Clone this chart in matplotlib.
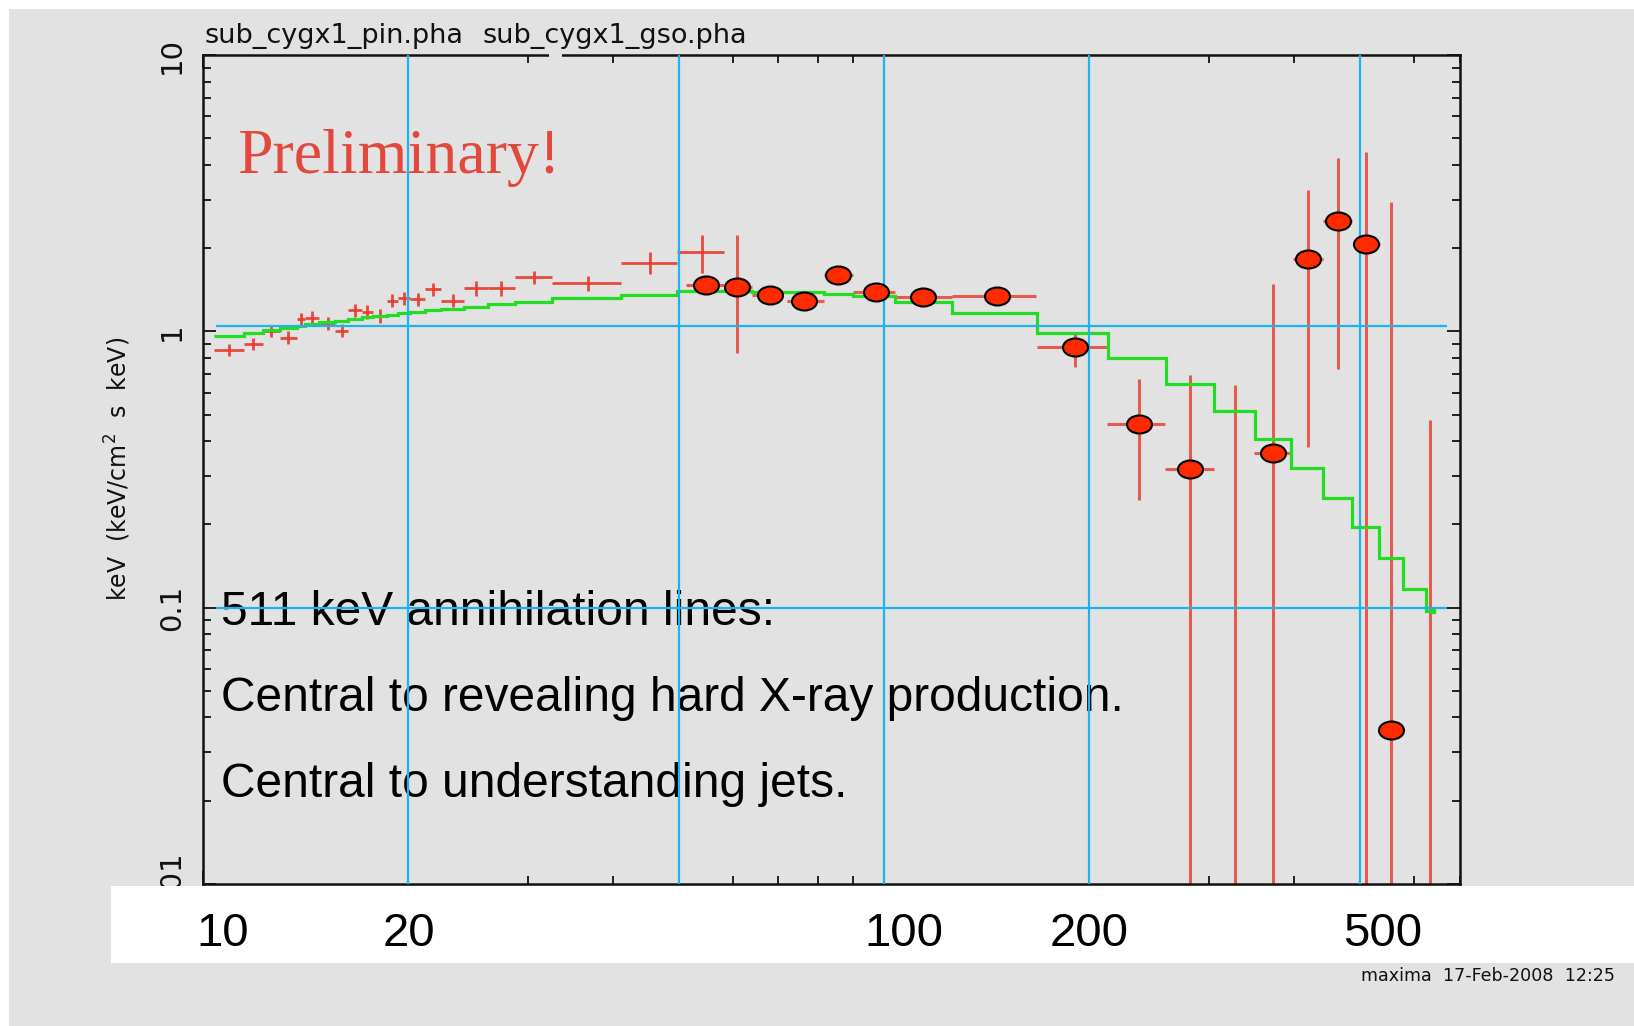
import numpy as np
import matplotlib
matplotlib.use("Agg")
import matplotlib.pyplot as plt
from matplotlib.path import Path
from matplotlib.transforms import Affine2D
from matplotlib.patches import Rectangle

# HXD-PIN spectrum: bin centre, bin edges (keV), E*F(E) and 1-sigma error
pin_e = [10.92, 11.86, 12.61, 13.37, 13.93, 14.47, 15.26, 16.01, 16.74, 17.45, 18.21,
         18.99, 19.74, 20.73, 21.80, 23.32, 25.18, 27.45, 30.65, 36.77, 45.35, 54.03]
pin_lo = [10.38, 11.51, 12.25, 13.00, 13.75, 14.14, 14.83, 15.65, 16.33, 17.12, 17.81,
          18.63, 19.38, 20.15, 21.19, 22.42, 24.21, 26.25, 28.72, 32.53, 41.13, 49.68]
pin_hi = [11.51, 12.25, 13.00, 13.75, 14.14, 14.83, 15.65, 16.33, 17.12, 17.81, 18.63,
          19.38, 20.15, 21.19, 22.42, 24.21, 26.25, 28.72, 32.53, 41.13, 49.68, 58.27]
pin_f = [0.856, 0.898, 1.006, 0.949, 1.106, 1.121, 1.070, 1.006, 1.195, 1.178, 1.137,
         1.292, 1.318, 1.307, 1.421, 1.291, 1.433, 1.433, 1.570, 1.495, 1.773, 1.931]
pin_err = [0.045, 0.045, 0.05, 0.05, 0.06, 0.06, 0.055, 0.055, 0.065, 0.065, 0.065,
           0.07, 0.07, 0.07, 0.075, 0.07, 0.09, 0.09, 0.09, 0.09, 0.16, 0.30]

# HXD-GSO spectrum (nan = below the plotted range, only the error bar shows)
gso_e = [54.86, 60.96, 68.06, 76.42, 85.68, 97.50, 114.1, 146.5, 190.7, 236.9, 281.7,
         327.3, 372.4, 418.8, 464.4, 510.9, 555.3, 633.9]
gso_lo = [51.2, 58.27, 64.12, 71.99, 81.82, 90.14, 103.95, 125.85, 167.6, 212.7, 258.9,
          304.8, 349.9, 398.1, 441.6, 488.5, 534.5, 580.2]
gso_hi = [58.27, 64.12, 70.96, 81.82, 90.14, 103.95, 125.85, 167.2, 213.4, 258.9, 304.8,
          349.9, 396.0, 441.6, 487.3, 534.5, 580.2, 693.7]
gso_f = [1.466, 1.444, 1.358, 1.289, 1.600, 1.389, 1.335, 1.347, 0.876, 0.462, 0.318,
         np.nan, 0.363, 1.829, 2.510, 2.067, 0.0360, np.nan]
gso_fhi = [1.52, 2.234, 1.40, 1.33, 1.65, 1.43, 1.38, 1.39, 0.998, 0.672, 0.696,
           0.640, 1.481, 3.251, 4.234, 4.474, 2.949, 0.478]
gso_flo = [1.41, 0.837, 1.32, 1.25, 1.55, 1.35, 1.29, 1.30, 0.742, 0.245, 0.001,
           0.001, 0.001, 0.382, 0.729, 0.001, 0.001, 0.001]

# folded model, one value per channel bin
model_edges = [10.38, 11.51, 12.25, 13.00, 13.75, 14.14, 14.83, 15.65, 16.33, 17.12, 17.81,
               18.63, 19.38, 20.15, 21.19, 22.42, 24.21, 26.25, 28.72, 32.53, 41.13, 49.68,
               58.27, 64.12, 71.76, 81.82, 90.14, 103.95, 125.85, 167.6, 213.4, 259.2,
               305.0, 351.2, 396.0, 441.6, 487.4, 533.4, 578.7, 626.1, 639.2]
model_f = [0.965, 0.989, 1.012, 1.031, 1.046, 1.064, 1.079, 1.093, 1.109, 1.125, 1.137,
           1.149, 1.163, 1.176, 1.192, 1.208, 1.223, 1.254, 1.281, 1.321, 1.358, 1.397,
           1.401, 1.389, 1.385, 1.362, 1.340, 1.281, 1.166, 0.984, 0.801, 0.645, 0.514,
           0.407, 0.319, 0.249, 0.195, 0.151, 0.117, 0.097]

# reference guide lines
guide_e = [20, 50, 100, 200, 500]
guide_f = [1.05, 0.1]
guide_span = [10.45, 671]

energy_labels = ["10", "20", "100", "200", "500"]
energy_label_px = [223, 409, 903.5, 1089, 1383]

notes = ["511 keV annihilation lines:",
         "Central to revealing hard X-ray production.",
         "Central to understanding jets."]
note_baseline_px = [625, 711, 797]

W, H = 1634, 1026
GREY = "#e2e2e2"
RED = "#e8392b"
BLUE = "#1cb4ef"
sans = ["Liberation Sans", "DejaVu Sans"]
narrow = ["Liberation Sans Narrow", "DejaVu Sans"]


def fx(px):
    return px / W


def fy(py):
    return 1 - py / H


fig = plt.figure(figsize=(W / 100, H / 100), dpi=100, facecolor=GREY)
ax = fig.add_axes([fx(202.5), fy(883.7), 1257 / W, 828.5 / H])
ax.set_facecolor(GREY)
ax.set_xscale("log")
ax.set_yscale("log")
ax.set_xlim(10, 700)
ax.set_ylim(0.01, 10)

for s in ax.spines.values():
    s.set_linewidth(1.8)
    s.set_color("#111111")
ax.tick_params(which="both", direction="in", top=True, right=True,
               labelbottom=False, width=1.3, colors="#111111")
ax.tick_params(which="major", length=9.5)
ax.tick_params(which="minor", length=5.8)
ax.set_yticks([0.01, 0.1, 1, 10], ["0.01", "0.1", "1", "10"])
ax.tick_params(axis="y", which="major", labelrotation=90, pad=12, labelsize=21)
for lab in ax.get_yticklabels():
    lab.set_fontfamily(narrow)
    lab.set_verticalalignment("center")

# model
ax.stairs(model_f, model_edges, baseline=None, color="#22dd22", lw=2.3, zorder=3)
ax.plot(model_edges[-1], model_f[-1], "s", ms=3, color="#22dd22", zorder=3)

# PIN crosses
pe = np.array(pin_e)
ax.errorbar(pe, pin_f, xerr=[pe - np.array(pin_lo), np.array(pin_hi) - pe], yerr=pin_err,
            fmt="none", ecolor=RED, elinewidth=2.0, capsize=0, alpha=0.9, zorder=2)

# GSO error bars
ax.vlines(gso_e, gso_flo, gso_fhi, color=RED, lw=2.2, alpha=0.8, zorder=2)
ax.hlines(gso_f, gso_lo, gso_hi, color=RED, lw=2.2, alpha=0.8, zorder=2)

# guide lines on top of the data and notes
for e in guide_e:
    ax.axvline(e, color=BLUE, lw=1.6, zorder=4)
ax.hlines(guide_f, guide_span[0], guide_span[1], color=BLUE, lw=1.6, zorder=4)

# GSO points as slightly flattened discs
disc = Path.unit_circle().transformed(Affine2D().scale(1.0, 0.72))
ax.plot(gso_e, gso_f, ls="none", marker=disc, ms=18, mfc="#ff2a00", mec="black",
        mew=1.5, zorder=5)

ax.text(fx(237.6), fy(173), "Preliminary!", transform=fig.transFigure, fontsize=46,
        family=["Liberation Serif", "DejaVu Serif"], color="#e2483c", va="baseline", zorder=3)
for txt, py in zip(notes, note_baseline_px):
    ax.text(fx(221), fy(py), txt, transform=fig.transFigure, fontsize=34.5,
            family=sans, color="black", va="baseline", zorder=3)

# plot headers
fig.text(fx(204), fy(43), "sub_cygx1_pin.pha", fontsize=19.5, va="baseline", color="#111111")
fig.text(fx(482.5), fy(43), "sub_cygx1_gso.pha", fontsize=19.5, va="baseline", color="#111111")
fig.text(fx(118), fy(469), "keV  (keV/cm$^2$  s  keV)", rotation=90, ha="center",
         va="center", fontsize=17, color="#111111")
fig.text(fx(1615), fy(976), "maxima  17-Feb-2008  12:25", ha="right", va="center",
         fontsize=12.6, color="#111111")

# small break in the top frame line
fig.add_artist(Rectangle((fx(549), fy(58)), 13 / W, 7 / H, transform=fig.transFigure,
                         facecolor=GREY, edgecolor="none", zorder=5))

# white frame pieces and the energy band
fig.add_artist(Rectangle((0, fy(9)), 1, 9 / H, transform=fig.transFigure,
                         facecolor="white", edgecolor="none", zorder=5))
fig.add_artist(Rectangle((0, 0), 9 / W, 1, transform=fig.transFigure,
                         facecolor="white", edgecolor="none", zorder=5))
fig.add_artist(Rectangle((fx(111), fy(963.3)), 1 - fx(111), (963.3 - 886) / H,
                         transform=fig.transFigure, facecolor="white", edgecolor="none",
                         zorder=5))
for lab, px in zip(energy_labels, energy_label_px):
    fig.text(fx(px), fy(946.5), lab, ha="center", va="baseline", fontsize=34,
             family=sans, zorder=6)

fig.savefig("out.png", dpi=100, facecolor=GREY)
